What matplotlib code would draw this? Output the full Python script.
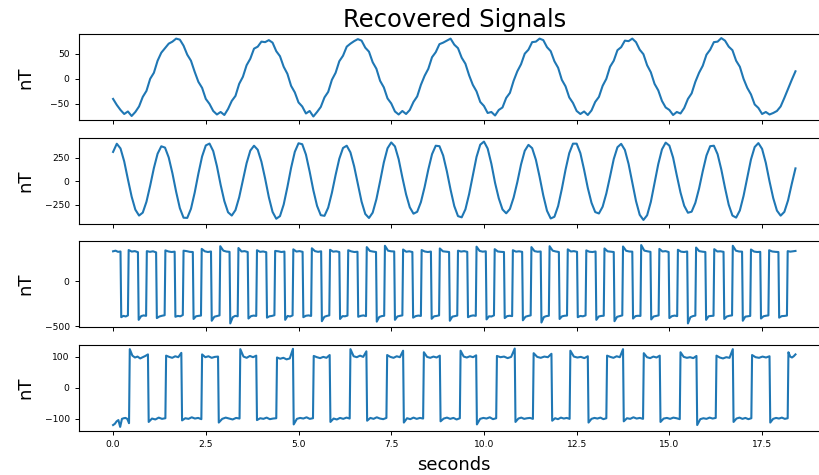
import numpy as np
import matplotlib.pyplot as plt

# sampling step of the two sinusoidal channels (s) and record length
DT = 0.1
T_END = 18.4

# channel 1: slow sinusoid, nT
sig1 = [-40, -52, -62, -70, -65, -74, -66, -55, -36, -24,
        0, 12, 36, 52, 61, 70, 74, 80, 78, 66,
        48, 36, 14, -6, -18, -40, -50, -64, -71, -66,
        -72, -60, -44, -34, -10, 4, 27, 40, 60, 64,
        74, 73, 77, 72, 55, 45, 24, 10, -14, -27,
        -47, -55, -69, -64, -75, -66, -56, -37, -26, -2,
        12, 35, 46, 64, 70, 75, 79, 76, 62, 54,
        33, 20, -4, -17, -39, -49, -65, -71, -64, -70,
        -62, -46, -35, -12, 6, 20, 43, 53, 69, 72,
        76, 80, 68, 61, 42, 30, 7, -12, -25, -46,
        -54, -68, -66, -73, -62, -57, -38, -28, -4, 15,
        29, 50, 58, 73, 74, 80, 77, 63, 55, 35,
        22, -2, -15, -37, -48, -64, -70, -65, -72, -63,
        -46, -36, -14, 0, 24, 36, 57, 63, 76, 75,
        80, 73, 58, 49, 27, 13, -10, -23, -44, -57,
        -62, -72, -66, -69, -58, -40, -29, -6, 12, 26,
        48, 58, 73, 74, 81, 76, 64, 57, 36, 24,
        0, -18, -31, -51, -58, -70, -66, -71, -68, -64,
        -55, -38, -20, -2, 15]

# channel 2: faster sinusoid, nT
sig2 = [310, 397, 347, 209, 18, -165, -304, -367, -336, -220,
        -49, 138, 291, 370, 356, 251, 83, -114, -288, -390,
        -392, -295, -124, 79, 262, 379, 399, 319, 158, -40,
        -213, -332, -367, -309, -173, 7, 190, 324, 376, 333,
        206, 26, -172, -328, -401, -373, -250, -64, 141, 311,
        402, 392, 282, 101, -98, -264, -363, -370, -283, -125,
        65, 238, 352, 376, 305, 157, -33, -219, -350, -393,
        -336, -193, -2, 198, 349, 411, 369, 233, 39, -141,
        -279, -347, -327, -224, -64, 123, 286, 376, 371, 272,
        104, -92, -266, -373, -386, -301, -139, 62, 257, 387,
        420, 346, 184, -20, -184, -302, -343, -297, -176, -11,
        177, 322, 385, 350, 227, 46, -153, -316, -398, -380,
        -266, -84, 121, 297, 398, 398, 297, 121, -73, -231,
        -330, -345, -273, -132, 48, 234, 360, 396, 331, 182,
        -13, -213, -359, -414, -364, -222, -24, 180, 337, 409,
        377, 250, 60, -122, -263, -337, -326, -232, -80, 105,
        272, 371, 376, 286, 123, -72, -252, -367, -389, -313,
        -158, 39, 230, 362, 404, 342, 194, -3, -181, -314,
        -368, -328, -205, -30, 135]

# channel 3: fast square wave, switching times (s) and values on each level
sq3_edges = [0.21,
             0.41, 0.68, 0.90, 1.17, 1.40, 1.67, 1.89, 2.16, 2.38, 2.65,
             2.88, 3.15, 3.37, 3.64, 3.87, 4.14, 4.36, 4.63, 4.85, 5.12,
             5.35, 5.62, 5.84, 6.11, 6.33, 6.60, 6.83, 7.10, 7.32, 7.59,
             7.81, 8.08, 8.31, 8.58, 8.80, 9.07, 9.29, 9.56, 9.79, 10.06,
             10.28, 10.55, 10.77, 11.04, 11.27, 11.54, 11.76, 12.03, 12.25, 12.52,
             12.75, 13.02, 13.24, 13.51, 13.74, 14.01, 14.23, 14.50, 14.72, 14.99,
             15.22, 15.49, 15.71, 15.98, 16.20, 16.47, 16.70, 16.97, 17.19, 17.46,
             17.68, 17.95,
             18.18]
sq3_levels = [
    [338, 345, 332, 336], [-400, -385, -392, -380],
    [352, 335, 340, 328], [-430, -388, -380, -385],
    [340, 332, 338, 326], [-410, -392, -384, -378],
    [348, 336, 330, 334], [-395, -386, -390, -376],
    [345, 340, 332, 330], [-420, -390, -385, -382],
    [365, 338, 330, 336], [-440, -395, -388, -380],
    [395, 345, 335, 332], [-470, -400, -385, -390],
    [375, 336, 340, 330], [-415, -388, -382, -386],
    [350, 332, 336, 328], [-405, -390, -386, -378],
    [342, 338, 330, 335], [-430, -386, -392, -380],
    [360, 335, 340, 332], [-400, -384, -380, -386],
    [372, 340, 332, 338], [-445, -396, -386, -380],
    [355, 334, 338, 330], [-420, -388, -390, -382],
    [350, 337, 330, 333], [-395, -385, -380, -388],
    [385, 342, 335, 330], [-450, -398, -388, -384],
    [400, 345, 338, 336], [-430, -392, -385, -380],
    [358, 333, 338, 330], [-405, -388, -382, -386],
    [352, 336, 330, 335], [-418, -390, -386, -380],
    [370, 338, 334, 330], [-440, -394, -388, -382],
    [345, 335, 340, 332], [-400, -386, -380, -385],
    [390, 342, 334, 338], [-425, -390, -392, -380],
    [362, 336, 332, 330], [-410, -388, -384, -388],
    [350, 334, 338, 332], [-435, -395, -386, -380],
    [385, 340, 333, 336], [-460, -398, -388, -384],
    [395, 345, 336, 330], [-420, -390, -384, -382],
    [360, 336, 340, 332], [-400, -386, -390, -380],
    [348, 333, 330, 336], [-430, -392, -386, -384],
    [370, 338, 334, 330], [-445, -396, -388, -380],
    [392, 344, 336, 334], [-415, -388, -384, -386],
    [408, 346, 338, 332], [-425, -392, -386, -380],
    [365, 336, 340, 330], [-410, -388, -382, -388],
    [355, 334, 330, 336], [-470, -400, -388, -382],
    [380, 340, 334, 330], [-430, -390, -386, -384],
    [362, 336, 338, 332], [-420, -392, -384, -380],
    [400, 345, 336, 334], [-440, -394, -390, -386],
    [358, 335, 330, 332], [-415, -390, -384, -380],
    [350, 336, 332, 330], [-405, -388, -386, -382],
    [340, 334, 338, 342],
]

# channel 4: slower square wave
sq4_edges = [0.44, 0.95, 1.42, 1.85, 2.39, 2.84, 3.42, 3.87, 4.41, 4.86,
             5.40, 5.85, 6.39, 6.84, 7.38, 7.83, 8.37, 8.82, 9.36, 9.80,
             10.34, 10.84, 11.33, 11.83, 12.32, 12.81, 13.31, 13.76, 14.30, 14.75,
             15.29, 15.74, 16.26, 16.72, 17.22, 17.71, 18.20]
sq4_levels = [
    [-120, -116, -108, -104, -126, -100, -98, -97, -100, -114],
    [125, 104, 98, 101, 95, 99, 103, 108],
    [-110, -99, -102, -96, -100, -98],
    [104, 100, 97, 102, 99, 113],
    [-105, -98, -100, -95, -99, -97, -101],
    [108, 99, 102, 97, 100, 101],
    [-112, -100, -96, -99, -102, -97, -99],
    [125, 101, 97, 103, 99, 104],
    [-104, -98, -100, -96, -101, -99, -98],
    [98, 94, 97, 92, 95, 126],
    [-118, -100, -97, -99, -95, -100, -98],
    [103, 99, 96, 100, 97, 106],
    [-110, -99, -102, -97, -100, -96, -99],
    [125, 102, 99, 104, 100, 118],
    [-106, -97, -100, -95, -99, -101, -97],
    [106, 100, 97, 102, 99, 120],
    [-112, -98, -101, -96, -100, -97, -99],
    [115, 100, 97, 101, 98, 104],
    [-108, -99, -96, -100, -97, -102, -98],
    [120, 101, 98, 102, 99, 105],
    [-118, -100, -97, -99, -95, -101, -98],
    [103, 99, 101, 96, 100, 127],
    [-110, -99, -96, -100, -98, -97, -100],
    [112, 100, 97, 101, 99, 110],
    [-106, -98, -101, -96, -99, -97, -100],
    [120, 101, 98, 100, 96, 102],
    [-112, -100, -97, -99, -96, -101, -98],
    [104, 100, 97, 102, 99, 125],
    [-108, -98, -100, -95, -99, -97, -100],
    [112, 99, 96, 101, 98, 104],
    [-110, -99, -97, -100, -96, -98, -101],
    [115, 100, 97, 99, 96, 103],
    [-120, -101, -98, -100, -96, -99, -97],
    [104, 98, 95, 99, 97, 125],
    [-110, -99, -96, -100, -97, -101, -98],
    [106, 99, 97, 101, 98, 102],
    [-112, -100, -97, -99, -96, -100, -98],
    [115, 101, 98, 102, 108],
]

yticks = [[-50, 0, 50], [-250, 0, 250], [-500, 0], [-100, 0, 100]]


def plateau_trace(edges, levels, t_end=T_END, gap=0.01):
    # spread each level's readings across the interval between switches
    bounds = [0.0] + list(edges) + [t_end]
    ts, ys = [], []
    for i, vals in enumerate(levels):
        a = bounds[i] + (gap if i > 0 else 0.0)
        b = bounds[i + 1] - (gap if i < len(levels) - 1 else 0.0)
        ts.extend(np.linspace(a, b, len(vals)))
        ys.extend(vals)
    return np.array(ts), np.array(ys)


t1 = np.arange(len(sig1)) * DT
t2 = np.arange(len(sig2)) * DT
t3, y3 = plateau_trace(sq3_edges, sq3_levels)
t4, y4 = plateau_trace(sq4_edges, sq4_levels)

traces = [(t1, sig1), (t2, sig2), (t3, y3), (t4, y4)]

fig, axes = plt.subplots(4, 1, sharex=True, figsize=(8.2, 4.75), dpi=100)
fig.subplots_adjust(left=0.0963, right=1.0117, top=0.928, bottom=0.093, hspace=0.2)

for ax, (t, y), ticks in zip(axes, traces, yticks):
    ax.plot(t, y, color='#1f77b4', lw=1.5)
    ax.set_yticks(ticks)
    ax.set_ylabel('nT', fontsize=13, labelpad=7.5)
    ax.tick_params(labelsize=6.6, length=3.2, width=0.7)

axes[0].set_title('Recovered Signals', fontsize=17.5, pad=5)
axes[-1].set_xlabel('seconds', fontsize=13, labelpad=5)
fig.align_ylabels(axes)

fig.savefig('out.png', dpi=100)
